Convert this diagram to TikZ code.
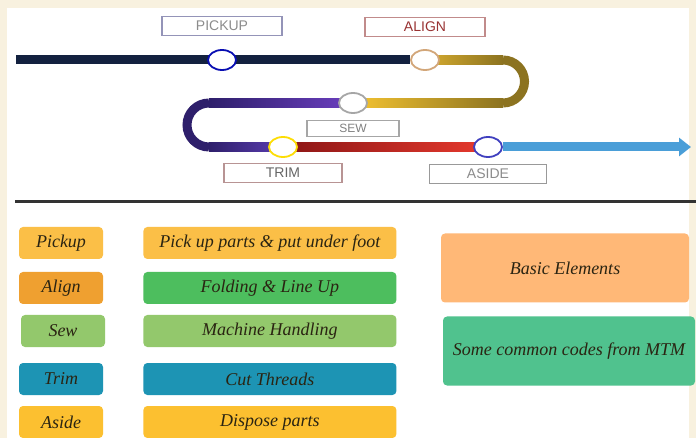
\documentclass[tikz,border=0pt]{standalone}
\usepackage{fontspec}
\setmainfont{Liberation Serif}
\setsansfont{Liberation Sans}
\usetikzlibrary{shapes.geometric,positioning,calc,arrows.meta,backgrounds}
\definecolor{cream}{HTML}{F8F1DF}
\definecolor{navyrail}{HTML}{13213F}
\definecolor{golda}{HTML}{D6AC30}
\definecolor{goldb}{HTML}{8C7320}
\definecolor{goldc}{HTML}{F5C431}
\definecolor{violeta}{HTML}{6C3FC0}
\definecolor{violetb}{HTML}{2E1F6B}
\definecolor{violetc}{HTML}{5B3DB0}
\definecolor{reda}{HTML}{8A1515}
\definecolor{redb}{HTML}{E83A2E}
\definecolor{bluerail}{HTML}{4A9ED8}
\definecolor{pickupc}{HTML}{FBBF47}
\definecolor{alignc}{HTML}{EFA030}
\definecolor{sewc}{HTML}{93C86C}
\definecolor{trimc}{HTML}{1D94B4}
\definecolor{asidec}{HTML}{FCC030}
\definecolor{foldc}{HTML}{4DBE5E}
\definecolor{basicc}{HTML}{FFB877}
\definecolor{mtmc}{HTML}{50C28E}
\definecolor{codetext}{HTML}{2A2412}
\begin{document}
\begin{tikzpicture}[x=1pt,y=-1pt,
   stopnode/.style={ellipse,draw=#1,fill=white,line width=1.8pt,minimum width=28pt,minimum height=20pt,inner sep=0},
   tagbox/.style={draw=#1,fill=white,line width=1.2pt,minimum width=120pt,minimum height=19pt,inner sep=0,font=\sffamily\fontsize{14}{14}\selectfont},
   codebox/.style={fill=#1,rounded corners=4pt,minimum width=84pt,minimum height=32pt,inner sep=0,text=codetext,font=\itshape\fontsize{18}{18}\selectfont},
   taskbox/.style={codebox=#1,minimum width=253pt},
   groupbox/.style={codebox=#1,minimum width=248pt,minimum height=69pt},
   rail/.style={line width=9pt}
  ]
  \useasboundingbox (0,0) rectangle (696,438);
  \node[stopnode={blue!60!navyrail}] (pickup) at (222,60) {};
  \node[stopnode={brown!70}] (align) at (425,60) {};
  \node[stopnode=gray!70] (sew) at (353,103) {};
  \node[stopnode={yellow!80!orange}] (trim) at (283,147) {};
  \node[stopnode={blue!50!gray}] (aside) at (488,147) {};
  \coordinate (start) at (16,60);
  \coordinate (turnr1) at (503,60);
  \coordinate (turnr2) at (503,103);
  \coordinate (turnl1) at (209,103);
  \coordinate (turnl2) at (209,147);
  \coordinate (end) at (691,147);
  \coordinate (sepl) at (15,202);
  \coordinate (sepr) at (696,202);
  \begin{pgfonlayer}{background}
    \fill[cream] (0,0) rectangle (696,438);
    \fill[white] (7,8) rectangle (689,438);
    \draw[rail,navyrail] (start) -- (align);
    \shade[left color=golda,right color=goldb] ($(align)+(0,-4.5)$) rectangle ($(turnr1)+(0,4.5)$);
    \draw[rail,goldb] (turnr1) arc[start angle=-90,end angle=90,radius=21.5];
    \shade[left color=goldc,right color=goldb] ($(sew)+(0,-4.5)$) rectangle ($(turnr2)+(0,4.5)$);
    \shade[left color=violetb,right color=violeta] ($(turnl1)+(0,-4.5)$) rectangle ($(sew)+(0,4.5)$);
    \draw[rail,violetb] (turnl1) arc[start angle=-90,end angle=-270,radius=22];
    \shade[left color=violetb,right color=violetc] ($(turnl2)+(0,-4.5)$) rectangle ($(trim)+(0,4.5)$);
    \shade[left color=reda,right color=redb] ($(trim)+(0,-4.5)$) rectangle ($(aside)+(0,4.5)$);
    \draw[rail,bluerail,-{Triangle[length=12pt,width=18pt]}] (aside) -- (end);
  \end{pgfonlayer}
  \node[tagbox={blue!20!gray!70},text=gray!90,above=13pt of pickup] (pickuptag) {PICKUP};
  \node[tagbox={red!30!gray!70},text={red!50!black!80},above=12pt of align] (aligntag) {ALIGN};
  \node[tagbox=gray!70,text=gray,minimum width=92pt,minimum height=16pt,font=\sffamily\fontsize{12}{12}\selectfont,below=6pt of sew] (sewtag) {SEW};
  \node[tagbox={red!20!gray!70},text=gray!80!black,minimum width=118pt,below=5pt of trim] (trimtag) {TRIM};
  \node[tagbox=gray!80,text=gray!90,minimum width=117pt,below=6pt of aside] (asidetag) {ASIDE};
  \draw[line width=3pt,black!80] (sepl) -- (sepr);
  \node[codebox=pickupc] (pickupcode) at (61,243) {Pickup};
  \node[codebox=alignc] (aligncode) at (61,288) {Align};
  \node[codebox=sewc] (sewcode) at (63,331) {Sew};
  \node[codebox=trimc] (trimcode) at (61,379) {Trim};
  \node[codebox=asidec] (asidecode) at (61,422) {Aside};
  \node[taskbox=pickupc,right=40pt of pickupcode] (pickuptask) {Pick up parts \& put under foot};
  \node[taskbox=foldc,right=40pt of aligncode] (aligntask) {Folding \& Line Up};
  \node[taskbox=sewc,right=38pt of sewcode] (sewtask) {Machine Handling};
  \node[taskbox=trimc,right=40pt of trimcode] (trimtask) {Cut Threads};
  \node[taskbox=asidec,right=40pt of asidecode] (asidetask) {Dispose parts};
  \node[groupbox=basicc] (basic) at (565,268) {Basic Elements};
  \node[groupbox=mtmc,minimum width=252pt] (mtm) at (569,351) {Some common codes from MTM};
\end{tikzpicture}
\end{document}
